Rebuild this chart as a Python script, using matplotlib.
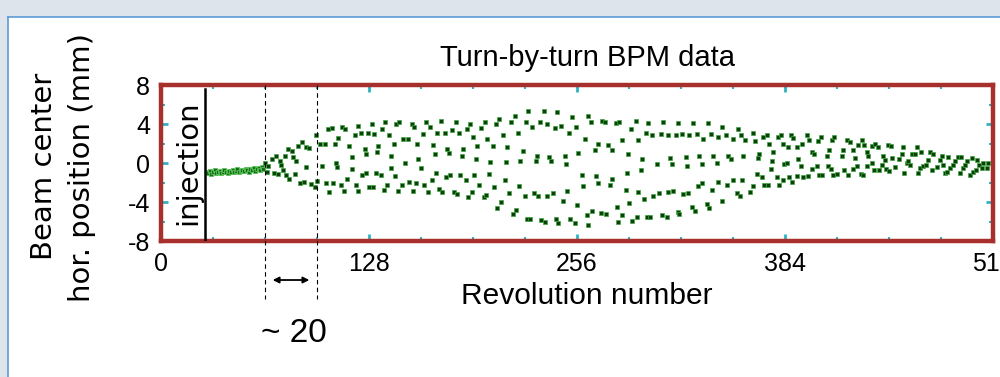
import matplotlib
matplotlib.use("Agg")
import matplotlib.pyplot as plt
from matplotlib.patches import Rectangle

plt.rcParams["axes.unicode_minus"] = False

# --- data (turn number, horizontal position in mm) ---
# injection band, before the kick
band_turn = list(range(28, 64))
band_pos = [-0.9, -1.0, -0.8, -1.1, -0.9, -0.7, -1.0, -0.9, -0.8, -1.0, -0.9, -0.7,
            -0.9, -1.0, -0.8, -0.9, -0.7, -0.9, -0.8, -0.6, -0.9, -0.8, -0.7, -0.8,
            -0.6, -0.7, -0.9, -0.6, -0.7, -0.5, -0.8, -0.6, -0.5, -0.7, -0.4, -0.6]

# growth of the oscillation
grow_turn = [64, 65, 66, 68, 69.5, 71, 72, 73, 74, 75, 76, 77, 78, 79, 80.5, 81.5, 82.5, 83,
             84.5, 85.5, 86.5, 88, 89, 89.5, 91, 92.5, 94.5, 95.5, 96, 98, 99, 101, 101.5,
             103, 103.5, 105, 106, 107, 107.5, 108, 109]
grow_pos = [0.0, -0.9, -0.3, 0.4, -1.0, 0.7, -1.1, 0.2, -0.2, -0.7, 0.7, -1.2, 1.4, -1.6,
            1.2, 0.6, -1.1, 0.2, 1.7, -2.0, 2.2, -1.9, 1.6, -0.4, 1.5, -2.2, -2.5, 2.9,
            -1.8, 1.9, -0.3, 1.9, -2.1, 3.5, -3.0, 3.6, -2.1, 1.9, 0.0, -0.4, 2.6]

seg1_turn = [110.8, 111.2, 112.8, 113.3, 114.3, 115.7, 117.4, 117.8, 119.4, 120.0, 121.0,
             121.5, 123.1, 123.9, 125.6, 126.0, 126.2, 127.2, 128.0, 129.7, 130.7, 131.3,
             132.1, 132.7, 133.8, 135.4, 136.2, 137.5, 137.9, 138.9, 140.3, 141.4, 141.6,
             143.2, 144.0, 144.6, 146.1, 146.7, 148.1, 149.2, 150.2, 151.8, 152.6, 154.3,
             155.3, 155.9, 156.7, 157.4, 158.4, 160.0, 161.5, 162.1, 162.9, 164.5, 165.6,
             166.6, 167.6, 168.6, 169.3, 170.1, 171.1, 172.3, 173.2, 174.8, 175.2, 175.8,
             177.5, 178.1, 179.3, 180.5, 181.4, 182.0, 183.4, 184.0, 185.0, 186.1, 187.5,
             188.1, 189.2]
seg1_pos = [-2.3, 3.7, -2.9, 3.5, -1.6, 1.7, 0.6, -0.6, 2.9, -2.3, 3.8, -2.9, 3.1, -1.2,
            1.4, 0.9, -1.0, 3.1, -2.5, 4.0, -2.5, 3.0, -1.0, 1.1, 1.7, -1.2, 3.5, -2.8, 4.2,
            -2.3, 2.9, -0.5, 0.7, 2.0, -1.3, 4.0, -2.9, 4.2, -2.3, 2.5, 0.0, 2.5, -1.9, 4.0,
            -2.9, 3.7, -2.1, 2.0, 0.4, -0.5, 3.0, -2.3, 4.2, -3.0, 3.7, -1.7, 1.8, 0.9, -1.0,
            3.1, -2.7, 4.3, -3.0, 3.1, -1.4, 1.4, 1.0, -1.2, 3.4, -3.0, 4.2, -3.2, 3.1, -1.2,
            0.7, 1.4, -1.7, 3.5, -3.5]

seg2_turn = [190.2, 191.2, 192.2, 192.7, 193.9, 194.3, 195.9, 196.8, 198.8, 199.4, 200.0,
             200.9, 202.1, 202.5, 204.2, 205.0, 206.2, 206.6, 208.3, 209.1, 210.7, 211.7,
             212.4, 213.2, 214.4, 215.2, 216.9, 217.9, 218.5, 219.5, 220.6, 221.0, 222.6,
             224.0, 224.7, 225.1, 226.1, 227.1, 228.1, 229.6, 230.8, 231.2, 232.3, 233.3,
             233.9, 235.7, 236.6, 237.4, 237.8, 239.0, 240.0, 241.5, 242.5, 243.1, 243.9,
             244.6, 246.0, 247.2, 248.7, 249.3, 249.7, 251.1, 251.7, 252.8, 254.8, 255.4,
             256.3, 256.9, 258.9, 259.5, 261.0, 262.0, 262.6, 263.0, 264.5, 265.1, 267.1,
             267.7, 268.8, 269.2, 270.6, 271.2, 273.4, 273.9, 275.3, 276.0]
seg2_pos = [4.0, -3.0, 2.7, -1.2, 0.4, 1.7, -2.3, 3.6, -3.5, 4.2, -3.3, 2.5, -1.1, 0.1,
            1.7, -2.5, 4.0, -4.6, 4.5, -4.0, 2.9, -1.7, 0.1, 1.6, -3.1, 4.2, -5.2, 4.8, -4.8,
            3.1, -2.4, 0.2, 1.2, -3.4, 4.2, -5.7, 5.3, -5.7, 3.7, -3.1, 0.2, 0.7, -3.4, 4.2,
            -5.8, 5.3, -6.0, 4.0, -3.4, 0.6, 0.2, -3.1, 3.6, -5.7, 5.2, -6.2, 3.8, -3.9, 0.7,
            -0.1, -2.9, 3.1, -5.7, 4.7, -6.2, 3.7, -4.3, 1.0, -1.2, -2.4, 2.5, -5.3, 4.8,
            -6.4, 4.2, -4.9, 1.3, -1.3, -2.1, 2.0, -5.1, 4.3, 4.2, -5.2, 1.8, -2.3]

seg3_turn = [277.3, 277.7, 280.0, 280.6, 281.4, 281.8, 283.5, 283.9, 285.9, 286.5, 287.1,
             288.0, 289.2, 289.6, 292.1, 292.7, 293.3, 293.7, 295.4, 295.8, 297.4, 298.2,
             298.8, 299.9, 300.9, 301.9, 302.9, 305.4, 306.4, 307.7, 308.5, 309.1, 311.2,
             311.8, 312.3, 313.2, 314.6, 315.3, 316.7, 317.9, 318.3, 318.9, 320.8, 321.4,
             323.2, 323.9, 324.5, 324.9, 326.5, 327.1, 328.6, 329.6, 330.2, 331.0, 332.7,
             333.1, 333.7, 335.8, 336.4, 337.2, 338.4, 339.2, 339.9, 341.9, 342.5, 342.9,
             345.0, 345.5, 347.5, 348.5, 349.1, 350.5, 351.8, 352.2, 354.2, 355.3, 356.3,
             356.9, 357.3, 357.9]
seg3_pos = [-1.6, 1.3, 4.1, -4.5, -6.1, 4.2, -5.3, 2.4, -2.8, -1.0, 0.9, -4.1, 3.5, -5.9,
            4.3, -5.5, 2.4, -3.0, -0.7, 0.4, -3.7, 3.1, -5.5, 4.1, -5.5, 2.9, -3.4, -0.1,
            -3.1, 3.0, -5.3, 4.2, -5.5, 2.9, -3.0, 0.5, -0.1, -2.9, 2.9, -5.0, 4.1, -5.2,
            3.0, -3.2, 0.6, -0.3, -3.1, 2.9, -4.5, 4.1, -4.9, 3.0, -2.4, 0.7, -0.1, -2.1,
            2.5, -4.2, 4.1, -4.6, 3.0, -2.8, 0.7, 0.0, -1.9, 2.7, 3.7, -3.9, 2.9, -2.3, 0.7,
            0.4, -1.7, 2.5, -3.1, 3.5, -3.4, 2.9, -1.7, 0.7]

seg4_turn = [359.4, 362.5, 364.1, 364.5, 365.5, 367.0, 367.6, 368.2, 369.6, 370.7, 371.1,
             373.1, 373.7, 374.4, 375.2, 375.8, 376.8, 378.9, 379.9, 380.5, 381.3, 382.6,
             383.0, 383.4, 385.0, 386.0, 386.7, 387.5, 388.1, 389.1, 391.2, 391.6, 392.2,
             393.6, 394.2, 395.3, 397.3, 398.4, 399.0, 400.4, 400.9, 401.8, 403.9, 404.5,
             405.0, 406.0, 406.6, 410.0, 410.5, 410.9, 412.1, 412.7, 413.7, 414.2, 416.2,
             418.9, 419.5, 420.3, 422.4, 423.0, 424.0, 425.6, 426.0, 427.1, 428.1, 429.1,
             430.6, 431.2, 432.2, 432.6, 434.2, 434.7, 435.3, 437.3, 437.8, 438.8, 439.4,
             441.4, 441.9]
seg4_pos = [2.4, -3.0, 3.1, -2.4, 2.3, -1.1, 0.5, 0.9, -1.4, 2.7, -2.3, 2.9, -2.3, 2.0,
            -0.6, 0.2, 1.1, -1.4, 2.7, -2.3, 2.9, -1.7, 1.9, -0.1, 0.0, 1.6, -1.4, 2.9, -1.9,
            2.6, -1.3, 1.6, 0.4, -0.3, 2.0, -1.4, 2.9, -1.3, 2.4, 1.1, -0.6, 0.9, -0.3, 2.3,
            -1.2, 2.7, -1.2, 0.7, -0.3, 1.3, -0.6, 2.4, -1.2, 2.7, -1.1, 0.7, 1.3, -0.7, 2.4,
            -1.2, 2.2, -0.6, 1.3, 0.5, -0.3, 1.8, -1.1, 2.4, -1.2, 1.8, 1.1, -0.3, 0.7, 1.7,
            0.0, -0.7, 2.0, 1.6, -0.7]

seg5_turn = [443.5, 444.5, 445.5, 446.1, 447.6, 448.2, 449.0, 449.6, 451.7, 454.4, 455.8,
             456.8, 457.2, 458.9, 459.9, 460.9, 462.0, 464.0, 465.0, 466.0, 467.1, 467.5,
             469.1, 470.8, 472.2, 473.2, 474.3, 475.3, 477.3, 479.4, 480.4, 481.0, 482.5,
             483.9, 484.5, 485.5, 487.2, 488.6, 490.7, 491.7, 492.1, 493.7, 494.8, 495.8,
             497.8, 498.9, 499.9, 501.5, 501.9, 503.6, 505.0, 506.0, 508.1, 509.1]
seg5_pos = [-0.2, 0.7, 0.3, -0.6, 1.8, -0.8, 1.7, 0.5, -0.4, 0.4, 0.9, 1.6, -1.0, 0.0,
            0.2, -0.2, 0.9, 0.9, 1.6, -1.0, -0.5, 1.1, -0.3, -0.2, 0.3, 1.1, -0.7, 0.9, -0.4,
            0.3, 0.7, -0.2, -1.0, -0.9, 0.6, -0.5, -0.2, 0.2, 0.6, -1.0, 0.6, -0.5, -0.2,
            0.2, -1.2, 0.5, -0.9, -0.7, 0.3, -0.2, -0.5, 0.0, -0.5, 0.0]

injection_turn = 27
window = [64, 96]

osc_turn = grow_turn + seg1_turn + seg2_turn + seg3_turn + seg4_turn + seg5_turn
osc_pos = grow_pos + seg1_pos + seg2_pos + seg3_pos + seg4_pos + seg5_pos

narrow = ["Liberation Sans Narrow", "Liberation Sans", "DejaVu Sans"]

fig = plt.figure(figsize=(10, 3.77), dpi=100)
fig.patch.set_facecolor("white")

# window frame around the slide
fig.patches.append(Rectangle((0, 0.955), 1, 0.045, transform=fig.transFigure,
                             facecolor="#dde4ec", edgecolor="none", zorder=0))
fig.patches.append(Rectangle((0, 0), 0.008, 0.955, transform=fig.transFigure,
                             facecolor="#dde4ec", edgecolor="none", zorder=0))
fig.lines.append(plt.Line2D([0.008, 1], [0.955, 0.955], transform=fig.transFigure,
                            color="#5b9bd5", lw=1.2))
fig.lines.append(plt.Line2D([0.008, 0.008], [0, 0.955], transform=fig.transFigure,
                            color="#5b9bd5", lw=1.2))

ax = fig.add_axes([0.161, 0.3607, 0.832, 0.4138])
ax.set_xlim(0, 512)
ax.set_ylim(-8, 8)

ax.plot(band_turn, band_pos, ls="none", marker="s", ms=2.7, mfc="#1d6b1d",
        mec="#56c456", mew=0.6, zorder=3)
ax.plot(osc_turn, osc_pos, ls="none", marker="s", ms=2.8, mfc="#0d3f0d",
        mec="#3ca83c", mew=0.5, zorder=3)

# frame
for s in ax.spines.values():
    s.set_color("#a8302c")
    s.set_linewidth(3.2)

ax.set_xticks([0, 128, 256, 384, 512])
ax.set_xticks(range(32, 512, 32), minor=True)
ax.set_yticks([-8, -4, 0, 4, 8])
ax.set_yticks([-6, -2, 2, 6], minor=True)
ax.tick_params(which="both", direction="in", top=True, right=True, color="#2fb3c4")
ax.tick_params(which="major", length=5, width=2, pad=8, labelsize=18)
ax.tick_params(which="minor", length=3, width=1.5)
for lab in ax.get_xticklabels() + ax.get_yticklabels():
    lab.set_family(narrow)

# injection marker
ax.plot([injection_turn, injection_turn], [7.6, -8], color="black", lw=1.8, zorder=4)
ax.text(16.5, 0, "injection", rotation=90, ha="center", va="center",
        fontsize=21, family="DejaVu Sans")

# ~20 turn window
for t in window:
    ax.plot([t, t], [8, -13.9], color="black", lw=0.8, ls=(0, (4, 3)),
            clip_on=False, zorder=4)
ax.annotate("", xy=(window[0] + 3, -12.0), xytext=(window[1] - 3, -12.0),
            arrowprops=dict(arrowstyle="<|-|>", color="black", lw=1.3,
                            mutation_scale=9),
            annotation_clip=False)
ax.text(sum(window) / 2 + 2, -17.5, "~ 20", ha="center", va="center",
        fontsize=24, family=narrow)

fig.text(0.587, 0.845, "Turn-by-turn BPM data", ha="center", va="center",
         fontsize=21, family=narrow)
fig.text(0.587, 0.215, "Revolution number", ha="center", va="center",
         fontsize=21.5, family=narrow)
fig.text(0.044, 0.56, "Beam center", rotation=90, ha="center", va="center",
         fontsize=21, family="DejaVu Sans")
fig.text(0.082, 0.555, "hor. position (mm)", rotation=90, ha="center", va="center",
         fontsize=21, family="DejaVu Sans")

fig.savefig("out.png", dpi=100)
